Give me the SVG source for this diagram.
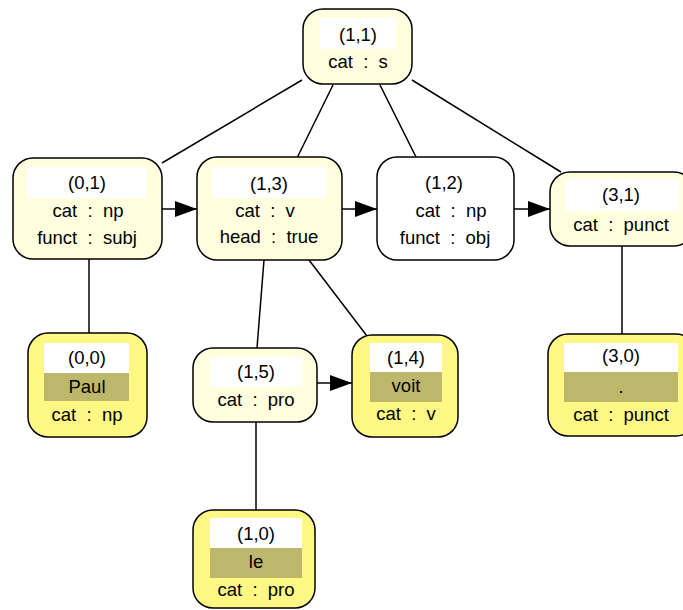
<svg xmlns="http://www.w3.org/2000/svg" width="683" height="610" viewBox="0 0 683 610">
<style>
  .node { stroke: #000; stroke-width: 1.5; }
  .lt { fill: #FFFFDF; }
  .yl { fill: #FFF885; }
  .wh { fill: #FFFFFF; }
  .hdr { fill: #FFFFFF; stroke: none; }
  .word { fill: #BDB76B; stroke: none; }
  text { font-family: "Liberation Sans", Arial, sans-serif; font-size: 18.5px; fill: #000; text-anchor: middle; white-space: pre; }
  .edge { stroke: #000; stroke-width: 1.5; fill: none; }
</style>
<defs>
  <marker id="arr" markerUnits="userSpaceOnUse" markerWidth="22" markerHeight="16" refX="22" refY="8" orient="auto">
    <path d="M0,0 L22,8 L0,16 Z" fill="#000"/>
  </marker>
</defs>
<rect width="683" height="610" fill="#FFFFFF"/>
<g id="edges">
  <line class="edge" x1="302" y1="80" x2="162" y2="163"/>
  <line class="edge" x1="333" y1="85" x2="297" y2="158"/>
  <line class="edge" x1="380" y1="85" x2="416" y2="157"/>
  <line class="edge" x1="412" y1="80" x2="561" y2="172"/>
  <line class="edge" x1="89" y1="259" x2="89" y2="333"/>
  <line class="edge" x1="264" y1="260" x2="257" y2="348"/>
  <line class="edge" x1="309" y1="260" x2="367" y2="336"/>
  <line class="edge" x1="622" y1="246" x2="622" y2="334"/>
  <line class="edge" x1="256" y1="422" x2="256" y2="510"/>
  <line class="edge" x1="162" y1="209" x2="197" y2="209" marker-end="url(#arr)"/>
  <line class="edge" x1="342" y1="209" x2="377" y2="209" marker-end="url(#arr)"/>
  <line class="edge" x1="514" y1="209" x2="550" y2="209" marker-end="url(#arr)"/>
  <line class="edge" x1="317" y1="383" x2="352" y2="383" marker-end="url(#arr)"/>
</g>
<g id="n11">
  <rect class="node lt" x="303" y="9" width="109" height="75" rx="20"/>
  <rect class="hdr" x="320" y="18" width="76" height="31"/>
  <text x="358" y="41">(1,1)</text>
  <text x="358" y="68">cat  :  s</text>
</g>
<g id="n01">
  <rect class="node lt" x="13" y="158" width="149" height="101" rx="20"/>
  <rect class="hdr" x="27" y="167" width="119" height="31"/>
  <text x="87" y="189">(0,1)</text>
  <text x="88" y="217">cat  :  np</text>
  <text x="87" y="244">funct  :  subj</text>
</g>
<g id="n13">
  <rect class="node lt" x="197" y="157" width="145" height="103" rx="20"/>
  <rect class="hdr" x="212" y="167" width="114" height="31"/>
  <text x="269" y="190">(1,3)</text>
  <text x="265" y="217">cat  :  v</text>
  <text x="269" y="243">head  :  true</text>
</g>
<g id="n12">
  <rect class="node wh" x="377" y="157" width="137" height="103" rx="20"/>
  <text x="444" y="189">(1,2)</text>
  <text x="451" y="217">cat  :  np</text>
  <text x="445" y="244">funct  :  obj</text>
</g>
<g id="n31">
  <rect class="node lt" x="550" y="172" width="144" height="74" rx="20"/>
  <rect class="hdr" x="565" y="179" width="114" height="32"/>
  <text x="621" y="201">(3,1)</text>
  <text x="621" y="231">cat  :  punct</text>
</g>
<g id="n00">
  <rect class="node yl" x="28" y="333" width="119" height="104" rx="20"/>
  <rect class="hdr" x="44" y="343" width="85" height="30"/>
  <rect class="word" x="44" y="373" width="85" height="28"/>
  <text x="87" y="364">(0,0)</text>
  <text x="87" y="393">Paul</text>
  <text x="87" y="421">cat  :  np</text>
</g>
<g id="n15">
  <rect class="node lt" x="193" y="348" width="124" height="74" rx="20"/>
  <rect class="hdr" x="210" y="357" width="92" height="30"/>
  <text x="256" y="378">(1,5)</text>
  <text x="256" y="406">cat  :  pro</text>
</g>
<g id="n14">
  <rect class="node yl" x="352" y="335" width="106" height="102" rx="20"/>
  <rect class="hdr" x="370" y="343" width="72" height="29"/>
  <rect class="word" x="370" y="372" width="72" height="30"/>
  <text x="406" y="364">(1,4)</text>
  <text x="406" y="392">voit</text>
  <text x="406" y="420">cat  :  v</text>
</g>
<g id="n30">
  <rect class="node yl" x="548" y="334" width="148" height="102" rx="20"/>
  <rect class="hdr" x="564" y="343" width="114" height="29"/>
  <rect class="word" x="564" y="372" width="114" height="30"/>
  <text x="621" y="362">(3,0)</text>
  <text x="621" y="393">.</text>
  <text x="621" y="421">cat  :  punct</text>
</g>
<g id="n10">
  <rect class="node yl" x="193" y="510" width="122" height="98" rx="20"/>
  <rect class="hdr" x="210" y="518" width="92" height="30"/>
  <rect class="word" x="210" y="548" width="92" height="30"/>
  <text x="256" y="540">(1,0)</text>
  <text x="256" y="568">le</text>
  <text x="256" y="596">cat  :  pro</text>
</g>
</svg>
